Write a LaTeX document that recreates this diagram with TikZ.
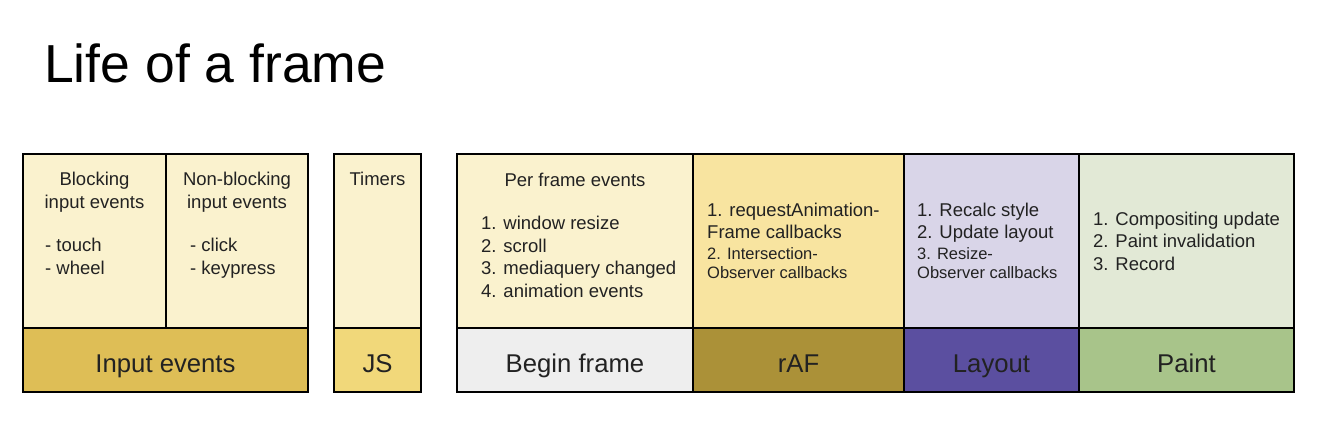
\documentclass[tikz,border=0pt]{standalone}
\usepackage{fontspec}
\setmainfont{Liberation Sans}
\usetikzlibrary{positioning}
\definecolor{colcell}{RGB}{250,242,206}
\definecolor{colinput}{RGB}{222,190,86}
\definecolor{coljs}{RGB}{241,216,122}
\definecolor{colbegin}{RGB}{238,238,238}
\definecolor{colraftop}{RGB}{248,228,160}
\definecolor{colraf}{RGB}{171,145,56}
\definecolor{collayouttop}{RGB}{217,213,232}
\definecolor{collayout}{RGB}{91,79,160}
\definecolor{colpainttop}{RGB}{226,233,214}
\definecolor{colpaint}{RGB}{168,196,138}
\definecolor{coltext}{RGB}{34,34,34}
\newcommand{\smtxt}{\fontsize{16.5}{19.5}\selectfont}
\tikzset{
	cell/.style={draw=black, line width=1.6pt, inner sep=0pt, outer sep=0pt, anchor=north west, minimum height=174pt},
	bar/.style={cell, minimum height=64pt, text=coltext, font=\fontsize{25.7}{30}\selectfont, text height=24pt, text depth=0pt},
	txt/.style={inner sep=0pt, text=coltext, align=left, font=\fontsize{18.5}{22.5}\selectfont}
}

\begin{document}
\begin{tikzpicture}[x=1pt, y=-1pt]
	\useasboundingbox (0,0) rectangle (1318,436);
	\node[inner sep=0pt, anchor=base west, font=\fontsize{53.5}{60}\selectfont] (title) at (44,82) {Life of a frame};
	% input events
	\node[cell, fill=colcell, minimum width=143pt] (block) at (23,154) {};
	\node[cell, fill=colcell, minimum width=142pt] (nonblock) at (166,154) {};
	\node[bar, fill=colinput, minimum width=285pt] (input) at (23,328) {Input events};
	\node[txt, align=center, below=18pt of block.north] (blocktitle) {Blocking\\input events};
	\node[txt, below right=84pt and 22pt of block.north west] (blocklist) {- touch\\- wheel};
	\node[txt, align=center, below=18pt of nonblock.north] (nonblocktitle) {Non-blocking\\input events};
	\node[txt, below right=84pt and 24pt of nonblock.north west] (nonblocklist) {- click\\- keypress};
	% js
	\node[cell, fill=colcell, minimum width=87pt] (timers) at (334,154) {};
	\node[bar, fill=coljs, minimum width=87pt] (js) at (334,328) {JS};
	\node[txt, below=18pt of timers.north] (timerstitle) {Timers};
	% frame
	\foreach \name/\x/\w/\coltop/\colbar/\lbl in {per/457/236/colcell/colbegin/Begin frame, raf/693/211/colraftop/colraf/rAF, layout/904/175/collayouttop/collayout/Layout, paint/1079/215/colpainttop/colpaint/Paint} {
		\node[cell, fill=\coltop, minimum width=\w pt] (\name top) at (\x,154) {};
		\node[bar, fill=\colbar, minimum width=\w pt] (\name bar) at (\x,328) {\lbl};
	}
	\node[txt, below=19pt of pertop.north] (pertitle) {Per frame events};
	\node[txt, below right=62pt and 24pt of pertop.north west] (perlist) {1. window resize\\2. scroll\\3. mediaquery changed\\4. animation events};
	\node[txt, right=14pt of raftop.west] (raflist) {1. requestAnimation-\\Frame callbacks\\[-2pt]{\smtxt 2. Intersection-}\\[-3pt]{\smtxt Observer callbacks}};
	\node[txt, right=13pt of layouttop.west] (layoutlist) {1. Recalc style\\2. Update layout\\[-2pt]{\smtxt 3. Resize-}\\[-3pt]{\smtxt Observer callbacks}};
	\node[txt, right=14pt of painttop.west] (paintlist) {1. Compositing update\\2. Paint invalidation\\3. Record};
\end{tikzpicture}
\end{document}
